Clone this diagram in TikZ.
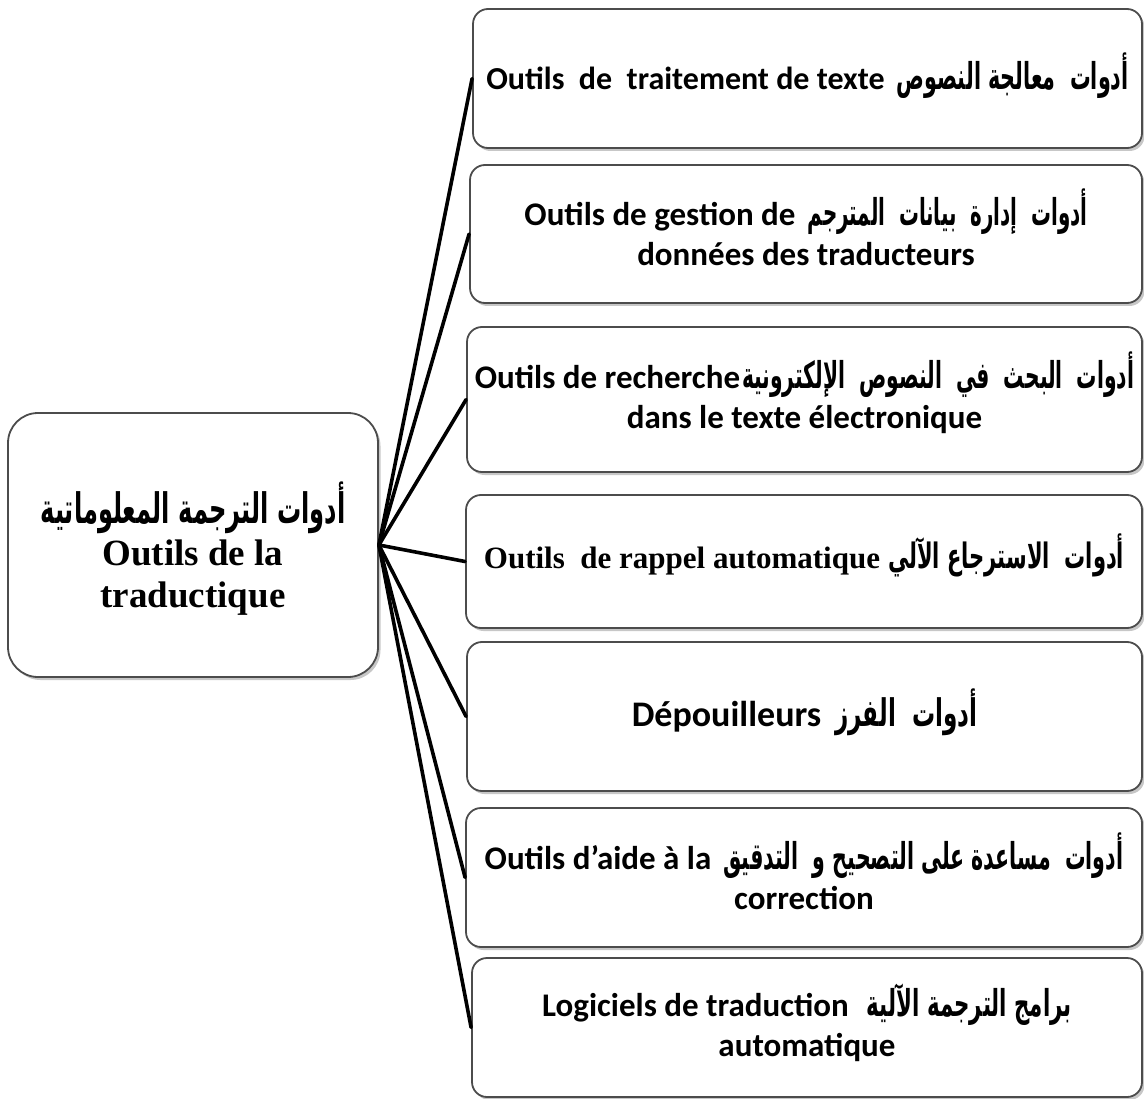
\documentclass[tikz,border=0pt]{standalone}
\usepackage{fontspec}
\usepackage{graphicx}
\setmainfont{Carlito}
\newfontfamily\arabicfont[Script=Arabic]{DejaVu Sans}
\newfontfamily\timesfont{Liberation Serif}
\TeXXeTstate=1
\usetikzlibrary{shadows}
% Arabic text, set at size #2 and fitted to width #1 (height kept, smashed)
\newcommand{\arfit}[3]{\smash{\resizebox{#1}{\height}{\arabicfont\fontsize{#2}{40}\selectfont #3}}}
\begin{document}
\begin{tikzpicture}[x=1pt,y=-1pt,
  toolbox/.style={draw=black!70, line width=1.8pt, rounded corners=15pt, fill=white,
    inner sep=0pt, align=center, font=\bfseries\fontsize{33}{40}\selectfont,
    drop shadow={shadow xshift=2.5pt, shadow yshift=-3pt, fill=black, opacity=0.22}},
  mainbox/.style={toolbox, rounded corners=30pt, font=\timesfont\bfseries\fontsize{37}{42}\selectfont},
  conn/.style={draw=black, line width=3.6pt, line cap=round}]
\useasboundingbox (0,0) rectangle (1144,1099);
\node[mainbox, minimum width=370pt, minimum height=264pt] (c) at (193,545)
  {\rule{0pt}{48pt}\arfit{305pt}{42}{\beginR أدوات الترجمة المعلوماتية\endR}\\[0pt]Outils de la\\traductique};
\node[toolbox, minimum width=669pt, minimum height=139pt, font=\bfseries\fontsize{32}{40}\selectfont] (b1) at (807.5,78.5)
  {Outils\ \ de\ \ traitement de texte\hspace{12pt}\arfit{232pt}{37}{\beginR أدوات\ \ معالجة النصوص\endR}};
\node[toolbox, minimum width=672pt, minimum height=138pt] (b2) at (806,234)
  {Outils de gestion de\hspace{12pt}\arfit{280pt}{37}{\beginR أدوات\ \ إدارة\ \ بيانات\ \ المترجم\endR}\\données des traducteurs};
\node[toolbox, minimum width=675pt, minimum height=145pt] (b3) at (804.5,399.5)
  {Outils de recherche\hspace{2pt}\arfit{392pt}{37}{\beginR أدوات\ \ البحث\ \ في\ \ النصوص\ \ الإلكترونية\endR}\\dans le texte électronique};
\node[toolbox, minimum width=676pt, minimum height=133pt, font=\timesfont\bfseries\fontsize{31}{36}\selectfont] (b4) at (804,561.5)
  {Outils\ \ de rappel automatique\hspace{8pt}\arfit{236pt}{35}{\beginR أدوات\ \ الاسترجاع الآلي\endR}};
\node[toolbox, minimum width=675pt, minimum height=149pt, font=\bfseries\fontsize{36}{40}\selectfont] (b5) at (804.5,716.5)
  {Dépouilleurs\hspace{14pt}\arfit{142pt}{38}{\beginR أدوات\ \ الفرز\endR}};
\node[toolbox, minimum width=676pt, minimum height=139pt] (b6) at (804,877.5)
  {Outils d’aide à la\hspace{12pt}\arfit{400pt}{37}{\beginR أدوات\ \ مساعدة على التصحيح و\ \ التدقيق\endR}\\correction};
\node[toolbox, minimum width=670pt, minimum height=139pt] (b7) at (807,1027.5)
  {Logiciels de traduction\hspace{18pt}\arfit{205pt}{37}{\beginR برامج الترجمة الآلية\endR}\\automatique};
\coordinate (hub) at (c.east);
\foreach \b in {b1,b2,b3,b4,b5,b6,b7} \draw[conn] (hub) -- (\b.west);
\end{tikzpicture}
\end{document}
